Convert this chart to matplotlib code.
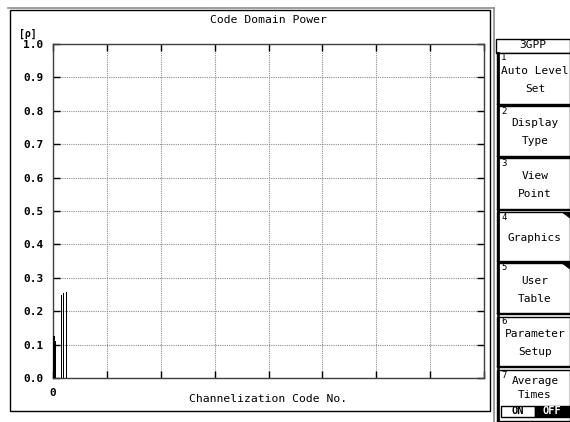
import numpy as np
import matplotlib.pyplot as plt
from matplotlib.patches import Rectangle, Polygon
from matplotlib.lines import Line2D

# code domain power readings (relative power rho per channelization code)
codes = [0, 1, 4.6, 6, 7.6]
power = [0.125, 0.11, 0.25, 0.255, 0.258]
bar_width = [1.0, 1.0, 0.7, 0.7, 0.7]

y_ticks = [0.0, 0.1, 0.2, 0.3, 0.4, 0.5, 0.6, 0.7, 0.8, 0.9, 1.0]
x_ticks = [0, 32, 64, 96, 128, 160, 192, 224, 256]
x_tick_labels = ['0', '', '', '', '', '', '', '', '']

# soft keys on the right: (number, label lines, top, bottom) in pixels
keys = [
    ('1', ['Auto Level', 'Set'], 53, 105),
    ('2', ['Display', 'Type'], 106, 157),
    ('3', ['View', 'Point'], 158, 210),
    ('4', ['Graphics'], 212, 262),
    ('5', ['User', 'Table'], 263, 314),
    ('6', ['Parameter', 'Setup'], 317, 367),
    ('7', ['Average', 'Times'], 370, 422),
]

W, H = 570, 422
MONO = 'DejaVu Sans Mono'


def fx(x):
    return x / W


def fy(y):
    return 1 - y / H


fig = plt.figure(figsize=(5.7, 4.22), dpi=100)
fig.patch.set_facecolor('white')

ax = fig.add_axes([fx(53), fy(378), fx(484) - fx(53), fy(44) - fy(378)])
ax.bar(codes, power, width=bar_width, align='edge', color='black',
       linewidth=0, zorder=3)
ax.set_xlim(0, 256)
ax.set_ylim(0, 1.0)
ax.set_yticks(y_ticks)
ax.set_yticklabels(['%.1f' % v for v in y_ticks], family=MONO,
                   fontsize=8, fontweight='bold')
ax.set_xticks(x_ticks)
ax.set_xticklabels(x_tick_labels, family=MONO, fontsize=8,
                   fontweight='bold')
ax.tick_params(direction='in', length=5, width=1, top=True, right=True,
               color='black', pad=7)
ax.grid(True, linestyle=(0, (1, 1)), color='0.55', linewidth=0.8, zorder=1)
for s in ax.spines.values():
    s.set_linewidth(1.0)
    s.set_color('0.25')

# outer measurement frame
fig.add_artist(Rectangle((fx(10), fy(411)), fx(490) - fx(10), fy(10) - fy(411),
                         fill=False, edgecolor='black', linewidth=1.0))
fig.add_artist(Line2D([fx(8), fx(494)], [fy(8), fy(8)], color='0.55', lw=1.2))
fig.add_artist(Line2D([fx(494), fx(494)], [fy(8), fy(422)], color='0.55', lw=1.2))

fig.text(fx(268), fy(20), 'Code Domain Power', family=MONO, fontsize=8.2,
         ha='center', va='center')
fig.text(fx(268), fy(399), 'Channelization Code No.', family=MONO,
         fontsize=8.2, ha='center', va='center')
fig.text(fx(28), fy(34), '[ρ]', family=MONO, fontsize=7,
         fontweight='bold', ha='center', va='center')

# header of the key panel
fig.add_artist(Rectangle((fx(496), fy(53)), fx(570) - fx(496), fy(39) - fy(53),
                         facecolor='white', edgecolor='black', linewidth=1.0))
fig.text(fx(533), fy(45), '3GPP', family=MONO, fontsize=8,
         ha='center', va='center')

for num, lines, top, bot in keys:
    fig.add_artist(Rectangle((fx(497), fy(bot)), fx(570) - fx(497),
                             fy(top) - fy(bot), facecolor='white',
                             edgecolor='black', linewidth=1.0))
    fig.add_artist(Line2D([fx(498), fx(498)], [fy(top), fy(bot)],
                          color='black', lw=2.0))
    fig.add_artist(Line2D([fx(497), fx(570)], [fy(bot - 1), fy(bot - 1)],
                          color='black', lw=1.0))
    fig.text(fx(501), fy(top + 5), num, family=MONO, fontsize=6.5,
             ha='left', va='center')
    if num == '7':
        fig.text(fx(535), fy(381), lines[0], family=MONO, fontsize=8,
                 ha='center', va='center')
        fig.text(fx(535), fy(395), lines[1], family=MONO, fontsize=8,
                 ha='center', va='center')
        fig.add_artist(Rectangle((fx(501), fy(417)), fx(535) - fx(501),
                                 fy(406) - fy(417), facecolor='white',
                                 edgecolor='black', linewidth=1.0))
        fig.add_artist(Rectangle((fx(535), fy(417)), fx(570) - fx(535),
                                 fy(406) - fy(417), facecolor='black',
                                 edgecolor='black', linewidth=1.0))
        fig.text(fx(518), fy(411.5), 'ON', family=MONO, fontsize=7.5,
                 fontweight='bold', ha='center', va='center')
        fig.text(fx(552), fy(411.5), 'OFF', family=MONO, fontsize=7.5,
                 fontweight='bold', color='white', ha='center', va='center')
    elif len(lines) == 2:
        mid = (top + bot) / 2
        fig.text(fx(535), fy(mid - 8), lines[0], family=MONO, fontsize=8,
                 ha='center', va='center')
        fig.text(fx(535), fy(mid + 10), lines[1], family=MONO, fontsize=8,
                 ha='center', va='center')
    else:
        fig.text(fx(535), fy((top + bot) / 2 + 1), lines[0], family=MONO,
                 fontsize=8, ha='center', va='center')
    if num in ('4', '5'):
        # corner mark for keys that open a sub menu
        fig.add_artist(Polygon([(fx(562), fy(top)), (fx(570), fy(top)),
                                (fx(570), fy(top + 6))], closed=True,
                               facecolor='black', edgecolor='black', lw=0.5))

fig.savefig('out.png', dpi=100)
